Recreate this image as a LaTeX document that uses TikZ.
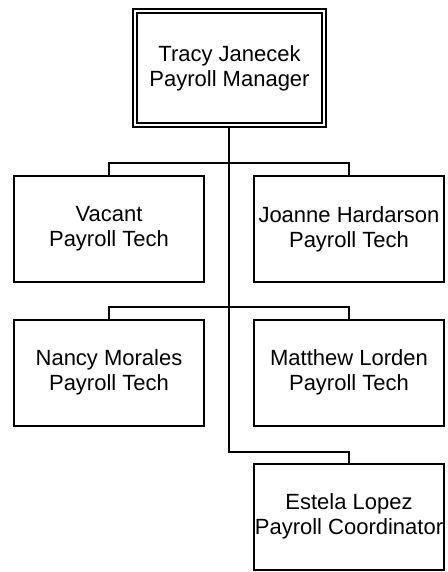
\documentclass[tikz,border=0pt]{standalone}
\usepackage{fontspec}
\setmainfont{Liberation Sans}
\begin{document}
\begin{tikzpicture}[x=1pt,y=-1pt,
  box/.style={draw, line width=2pt, minimum width=190pt, minimum height=106pt,
    align=center, inner sep=0pt, font=\fontsize{22}{25}\selectfont},
  topbox/.style={box, line width=1.6pt, double, double distance=2.4pt,
    minimum width=188.5pt, minimum height=114.5pt},
  conn/.style={line width=2pt}]
\useasboundingbox (0,0) rectangle (447,572);
\node[topbox] (top) at (229.5,68) {Tracy Janecek\\Payroll Manager};
\node[box] (a) at (109,229) {Vacant\\Payroll Tech};
\node[box] (b) at (349,229) {Joanne Hardarson\\Payroll Tech};
\node[box] (c) at (109,372.5) {Nancy Morales\\Payroll Tech};
\node[box] (d) at (349,372.5) {Matthew Lorden\\Payroll Tech};
\node[box] (e) at (349,516.5) {Estela Lopez\\Payroll Coordinator};
\coordinate (j1) at (229,163);
\coordinate (j2) at (229,307);
\coordinate (j3) at (229,452);
\draw[conn] (top.south -| j3) -- (j3) -| (e.north);
\draw[conn] (a.north) |- (j1) -| (b.north);
\draw[conn] (c.north) |- (j2) -| (d.north);
\end{tikzpicture}
\end{document}
